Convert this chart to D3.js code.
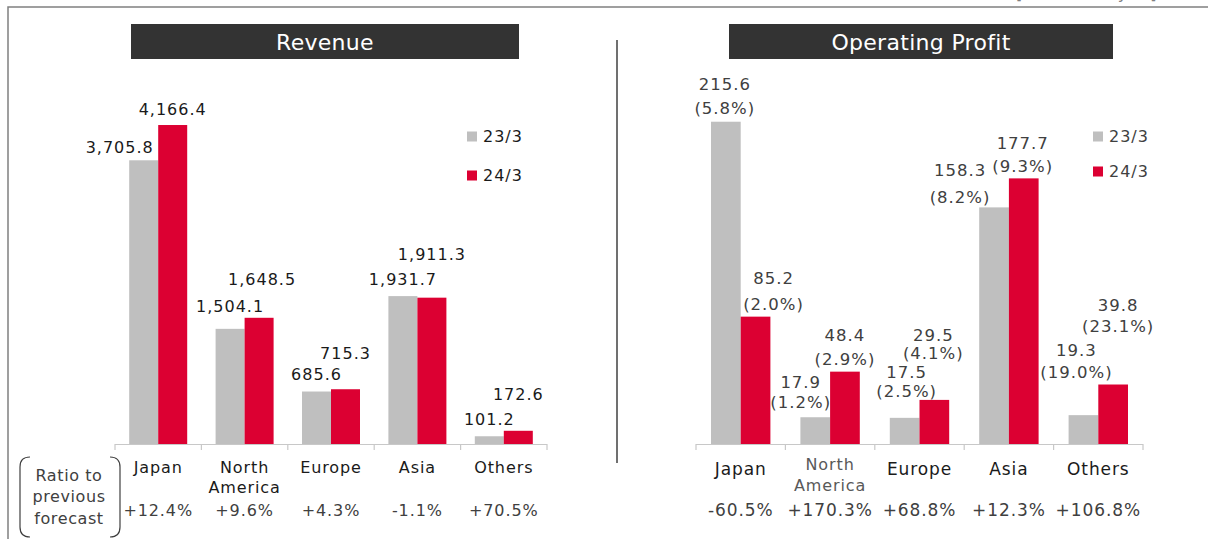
<!DOCTYPE html>
<html>
<head>
<meta charset="utf-8">
<script src="https://cdn.jsdelivr.net/npm/d3@7"></script>
<style>
  body { margin: 0; background: #fff; }
  text { font-family: 'DejaVu Sans', Verdana, sans-serif; }
</style>
</head>
<body>
<script>
// ---- data ----
const categories = ['Japan', 'North America', 'Europe', 'Asia', 'Others'];
const seriesNames = ['23/3', '24/3'];

const revenue23 = [3705.8, 1504.1, 685.6, 1931.7, 101.2];
const revenue24 = [4166.4, 1648.5, 715.3, 1911.3, 172.6];
const revenueRatio = ['+12.4%', '+9.6%', '+4.3%', '-1.1%', '+70.5%'];

const profit23 = [215.6, 17.9, 17.5, 158.3, 19.3];
const profit24 = [85.2, 48.4, 29.5, 177.7, 39.8];
const margin23 = ['5.8%', '1.2%', '2.5%', '8.2%', '19.0%'];
const margin24 = ['2.0%', '2.9%', '4.1%', '9.3%', '23.1%'];
const profitRatio = ['-60.5%', '+170.3%', '+68.8%', '+12.3%', '+106.8%'];

// ---- layout ----
const W = 1208, H = 539;
const baseY = 444;
const colors = { '23/3': '#bfbfbf', '24/3': '#dc0032' };

// label nudges: [dx from bar centre, gap above bar top, line lead]
const revNudge = {
  '23/3': [[-24, 12.7], [0, 22], [0, 17], [0, 16.7], [0, 16.6]],
  '24/3': [[0, 16], [3, 38], [0, 36], [0, 43], [0, 36.3]]
};
const opNudge = {
  '23/3': [[-1, 13.4, 24], [-14.5, 14.7, 20], [2, 26.6, 18.7], [-34, 10.4, 27], [-7, 43.4, 22]],
  '24/3': [[18, 12.7, 26], [0, 12, 24], [-1, 46.7, 18.3], [-1, 12.3, 22.7], [5, 58.3, 21]]
};

const svg = d3.select('body').append('svg')
  .attr('width', W)
  .attr('height', H);

// outer frame
svg.append('path')
  .attr('d', `M8,${H} V7 H${W}`)
  .attr('fill', 'none')
  .attr('stroke', '#808080')
  .attr('stroke-width', 1.5);

// note at top right, mostly above the page edge as in the source
svg.append('text')
  .attr('x', 1016).attr('y', -1)
  .attr('font-size', 16)
  .attr('fill', '#808080')
  .attr('letter-spacing', 1)
  .text('[Billions of yen]');

// divider
svg.append('line')
  .attr('x1', 617).attr('x2', 617)
  .attr('y1', 40).attr('y2', 463)
  .attr('stroke', '#404040')
  .attr('stroke-width', 1.5);

function drawPanel(p) {
  const g = svg.append('g');

  const x0 = d3.scaleBand().domain(categories).range([p.left, p.right]);
  const x1 = d3.scaleBand().domain(seriesNames).range([0, 2 * p.barW]);
  const y = d3.scaleLinear().domain([0, p.max]).range([baseY, p.top]);
  const groupX = c => x0(c) + (x0.bandwidth() - 2 * p.barW) / 2;
  const barCx = (c, s) => groupX(c) + x1(s) + x1.bandwidth() / 2;

  // title
  g.append('rect')
    .attr('x', p.titleX0).attr('y', 24)
    .attr('width', p.titleX1 - p.titleX0).attr('height', 35)
    .attr('fill', '#333333');
  g.append('text')
    .attr('x', (p.titleX0 + p.titleX1) / 2).attr('y', 42)
    .attr('dy', '0.35em')
    .attr('text-anchor', 'middle')
    .attr('font-size', 22)
    .attr('letter-spacing', 0.3)
    .attr('fill', '#fff')
    .text(p.title);

  const rows = categories.map((c, i) => ({
    cat: c, i,
    vals: seriesNames.map((s, k) => ({ s, v: p.values[k][i], i, cat: c }))
  }));

  // bars
  g.selectAll('g.grp')
    .data(rows)
    .join('g')
    .attr('class', 'grp')
    .attr('transform', d => `translate(${groupX(d.cat)},0)`)
    .selectAll('rect')
    .data(d => d.vals)
    .join('rect')
    .attr('x', d => x1(d.s))
    .attr('y', d => y(d.v))
    .attr('width', x1.bandwidth())
    .attr('height', d => baseY - y(d.v))
    .attr('fill', d => colors[d.s]);

  // axis line + boundary ticks
  const edges = categories.map(c => x0(c)).concat([p.right]);
  g.append('line')
    .attr('x1', p.left).attr('x2', p.right)
    .attr('y1', baseY + 0.5).attr('y2', baseY + 0.5)
    .attr('stroke', '#c8c8c8').attr('stroke-width', 1.2);
  g.selectAll('line.tick')
    .data(edges)
    .join('line')
    .attr('class', 'tick')
    .attr('x1', d => d).attr('x2', d => d)
    .attr('y1', baseY).attr('y2', baseY + 6)
    .attr('stroke', '#c8c8c8').attr('stroke-width', 1.2);

  // value labels
  const labels = rows.flatMap(r => r.vals);
  p.drawLabels(g, labels, y, barCx);

  // category labels
  categories.forEach((c, i) => {
    const cx = x0(c) + x0.bandwidth() / 2;
    if (c === 'North America') {
      const t = g.append('text')
        .attr('text-anchor', 'middle')
        .attr('font-size', p.naSize)
        .attr('letter-spacing', 0.9)
        .attr('fill', p.naColor);
      t.append('tspan').attr('x', cx).attr('y', p.naY[0]).attr('dy', '0.35em').text('North');
      t.append('tspan').attr('x', cx).attr('y', p.naY[1]).attr('dy', '0.35em').text('America');
    } else {
      g.append('text')
        .attr('x', cx).attr('y', p.catY)
        .attr('dy', '0.35em')
        .attr('text-anchor', 'middle')
        .attr('font-size', p.catSize)
        .attr('letter-spacing', 0.9)
        .attr('fill', '#1a1a1a')
        .text(c);
    }
    g.append('text')
      .attr('x', cx).attr('y', 510)
      .attr('dy', '0.35em')
      .attr('text-anchor', 'middle')
      .attr('font-size', p.catSize)
      .attr('letter-spacing', 0.9)
      .attr('fill', '#404040')
      .text(p.ratio[i]);
  });

  // legend
  const lg = g.append('g');
  seriesNames.forEach((s, k) => {
    const ly = p.legendY + k * p.legendStep;
    lg.append('rect')
      .attr('x', p.legendX).attr('y', ly - 5)
      .attr('width', 10).attr('height', 10)
      .attr('fill', colors[s]);
    lg.append('text')
      .attr('x', p.legendX + 16).attr('y', ly)
      .attr('dy', '0.35em')
      .attr('font-size', 16)
      .attr('letter-spacing', 1)
      .attr('fill', p.labelColor)
      .text(s);
  });
}

drawPanel({
  title: 'Revenue',
  titleX0: 131, titleX1: 519,
  left: 115, right: 547, barW: 29,
  max: 5000, top: 61.2,
  values: [revenue23, revenue24],
  ratio: revenueRatio,
  catY: 467, catSize: 16,
  naY: [467, 487.5], naSize: 16, naColor: '#1a1a1a',
  legendX: 467, legendY: 136.5, legendStep: 39,
  labelColor: '#1a1a1a',
  drawLabels(g, labels, y, barCx) {
    g.selectAll('text.val')
      .data(labels)
      .join('text')
      .attr('class', 'val')
      .attr('x', d => barCx(d.cat, d.s) + revNudge[d.s][d.i][0])
      .attr('y', d => y(d.v) - revNudge[d.s][d.i][1])
      .attr('dy', '0.35em')
      .attr('text-anchor', 'middle')
      .attr('font-size', 16)
      .attr('letter-spacing', 1)
      .attr('fill', '#1a1a1a')
      .text(d => d3.format(',.1f')(d.v));
  }
});

drawPanel({
  title: 'Operating Profit',
  titleX0: 729, titleX1: 1113,
  left: 696, right: 1143, barW: 29.7,
  max: 250, top: 70.3,
  values: [profit23, profit24],
  ratio: profitRatio,
  catY: 469, catSize: 17,
  naY: [464, 485.5], naSize: 16, naColor: '#595959',
  legendX: 1093, legendY: 136.5, legendStep: 35,
  labelColor: '#404040',
  drawLabels(g, labels, y, barCx) {
    const margins = { '23/3': margin23, '24/3': margin24 };
    const t = g.selectAll('text.val')
      .data(labels)
      .join('text')
      .attr('class', 'val')
      .attr('text-anchor', 'middle')
      .attr('font-size', 16.5)
      .attr('letter-spacing', 1)
      .attr('fill', '#404040');
    t.append('tspan')
      .attr('x', d => barCx(d.cat, d.s) + opNudge[d.s][d.i][0])
      .attr('y', d => y(d.v) - opNudge[d.s][d.i][1] - opNudge[d.s][d.i][2])
      .attr('dy', '0.35em')
      .text(d => d3.format('.1f')(d.v));
    t.append('tspan')
      .attr('x', d => barCx(d.cat, d.s) + opNudge[d.s][d.i][0])
      .attr('y', d => y(d.v) - opNudge[d.s][d.i][1])
      .attr('dy', '0.35em')
      .text(d => `(${margins[d.s][d.i]})`);
  }
});

// "Ratio to previous forecast" bracket box
svg.append('path')
  .attr('d', 'M30,457 Q20,457 20,467 V527 Q20,537 30,537 M110,457 Q120,457 120,467 V527 Q120,537 110,537')
  .attr('fill', 'none')
  .attr('stroke', '#404040')
  .attr('stroke-width', 1.2);
svg.append('text')
  .attr('text-anchor', 'middle')
  .attr('font-size', 16)
  .attr('letter-spacing', 0.6)
  .attr('fill', '#404040')
  .selectAll('tspan')
  .data(['Ratio to', 'previous', 'forecast'])
  .join('tspan')
  .attr('x', 69)
  .attr('y', (d, i) => 475 + i * 21.6)
  .attr('dy', '0.35em')
  .text(d => d);
</script>
</body>
</html>
